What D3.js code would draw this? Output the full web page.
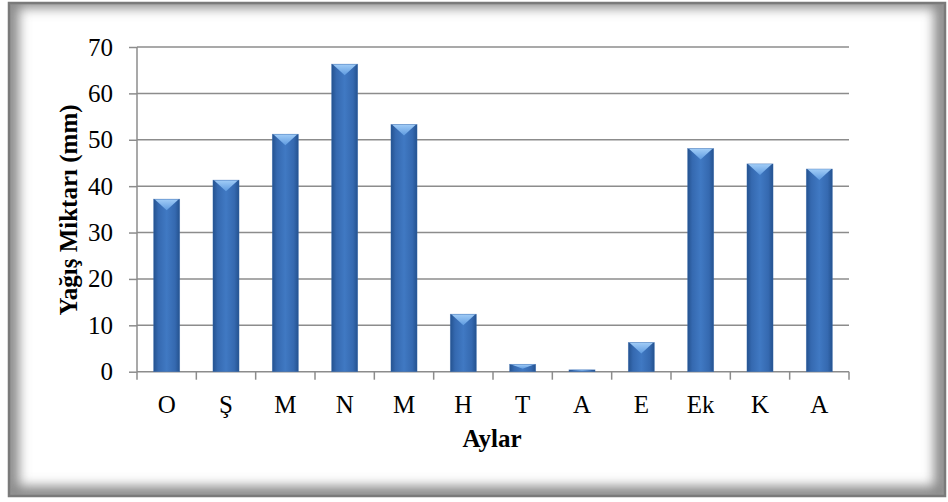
<!DOCTYPE html>
<html><head><meta charset="utf-8">
<script src="https://cdn.jsdelivr.net/npm/d3@7"></script>
<style>body{margin:0;background:#fff}svg{display:block}</style>
</head><body>
<script>
const months = ["O","Ş","M","N","M","H","T","A","E","Ek","K","A"];
const rainfall = [37.2,41.3,51.2,66.3,53.3,12.4,1.6,0.4,6.3,48.1,44.8,43.7];
const yTicks = [0,10,20,30,40,50,60,70];
const yTitle = "Yağış Miktarı (mm)";
const xTitle = "Aylar";

const W=948,H=502;
const FONT="'Liberation Serif','Times New Roman',serif";
const svg=d3.select("body").append("svg").attr("width",W).attr("height",H);
const defs=svg.append("defs");

// frame inner shadow
const fx=8,fy=2,fw=938,fh=495;
defs.append("clipPath").attr("id","fclip").append("rect").attr("x",fx).attr("y",fy).attr("width",fw).attr("height",fh);
const fl=defs.append("filter").attr("id","blur").attr("x","-10%").attr("y","-10%").attr("width","120%").attr("height","120%");
fl.append("feGaussianBlur").attr("stdDeviation",6);
svg.append("rect").attr("x",0).attr("y",0).attr("width",W).attr("height",H).attr("fill","#fff");
const fg=svg.append("g").attr("clip-path","url(#fclip)");
fg.append("rect").attr("x",fx).attr("y",fy).attr("width",fw).attr("height",fh).attr("fill","#fff");
fg.append("rect").attr("x",fx+2).attr("y",fy-3).attr("width",fw-5).attr("height",fh+1).attr("fill","none")
  .attr("stroke","#8a8a8a").attr("stroke-width",18).attr("filter","url(#blur)");
svg.append("rect").attr("x",fx+1).attr("y",fy+1).attr("width",fw-2).attr("height",fh-2).attr("fill","none")
  .attr("stroke","#7a7a7a").attr("stroke-width",2.5);

// scales
const x=d3.scaleBand().domain(d3.range(months.length)).range([137,849]).paddingInner(0.56).paddingOuter(0.28);
const xb=d3.scaleBand().domain(d3.range(months.length)).range([137,849]);
const y=d3.scaleLinear().domain([0,70]).range([371.7,47]);

// gridlines
svg.append("g").selectAll("line").data(yTicks.filter(d=>d>0)).join("line")
  .attr("x1",137).attr("x2",849).attr("y1",d=>y(d)).attr("y2",d=>y(d))
  .attr("stroke","#8c8c8c").attr("stroke-width",1.5);

// y axis
const ya=svg.append("g").attr("transform","translate(137,0)")
  .call(d3.axisLeft(y).tickValues(yTicks).tickSize(8).tickPadding(16));
ya.select(".domain").attr("stroke","#8c8c8c").attr("stroke-width",1.5).attr("d","M0,"+y(70)+"V"+y(0));
ya.selectAll(".tick line").attr("stroke","#8c8c8c").attr("stroke-width",1.5);
ya.selectAll("text").attr("font-family",FONT).attr("font-size",25).attr("fill","#000");

// x axis
const xa=svg.append("g").attr("transform","translate(0,"+y(0)+")");
xa.append("line").attr("x1",137).attr("x2",849).attr("stroke","#8c8c8c").attr("stroke-width",1.5);
const bounds=d3.range(months.length+1).map(i=>i<months.length?xb(i):xb(months.length-1)+xb.bandwidth());
xa.selectAll("line.t").data(bounds).join("line").attr("class","t")
  .attr("x1",d=>d).attr("x2",d=>d).attr("y1",0).attr("y2",8).attr("stroke","#8c8c8c").attr("stroke-width",1.5);
xa.selectAll("text").data(months).join("text")
  .attr("x",(d,i)=>xb(i)+xb.bandwidth()/2).attr("y",41).attr("text-anchor","middle")
  .attr("font-family",FONT).attr("font-size",25).text(d=>d);

// bar gradients
const g1=defs.append("linearGradient").attr("id","barg").attr("x1",0).attr("x2",1).attr("y1",0).attr("y2",0);
[[0,"#24528f"],[0.18,"#3569b0"],[0.5,"#4079c3"],[0.82,"#3569b0"],[1,"#24528f"]].forEach(s=>g1.append("stop").attr("offset",s[0]).attr("stop-color",s[1]));
const g2=defs.append("linearGradient").attr("id","topg").attr("x1",0).attr("x2",0).attr("y1",0).attr("y2",1);
[[0,"#a2cdf7"],[1,"#5f9be0"]].forEach(s=>g2.append("stop").attr("offset",s[0]).attr("stop-color",s[1]));

const bars=svg.append("g").selectAll("g").data(rainfall).join("g");
const bw=x.bandwidth();
bars.append("rect").attr("x",(d,i)=>x(i)).attr("y",d=>y(d)).attr("width",bw).attr("height",d=>y(0)-y(d))
  .attr("fill","url(#barg)");
bars.append("path").attr("fill","url(#topg)").attr("d",(d,i)=>{
  const x0=x(i),x1=x0+bw,t=y(d),h=y(0)-t,b=Math.min(11,h*0.6);
  return `M${x0+1},${t}L${x1-1},${t}L${(x0+x1)/2},${t+b}Z`;});
bars.append("rect").attr("x",(d,i)=>x(i)).attr("y",d=>y(d)).attr("width",bw).attr("height",d=>Math.max(0.5,y(0)-y(d)))
  .attr("fill","none").attr("stroke","#3a6db0").attr("stroke-width",0.6).attr("stroke-opacity",0.6);

// titles
svg.append("text").attr("transform","translate(77,210) rotate(-90)").attr("text-anchor","middle")
  .attr("font-family",FONT).attr("font-size",25).attr("font-weight","bold").text(yTitle);
svg.append("text").attr("x",492).attr("y",447).attr("text-anchor","middle")
  .attr("font-family",FONT).attr("font-size",25).attr("font-weight","bold").text(xTitle);
</script>
</body></html>
